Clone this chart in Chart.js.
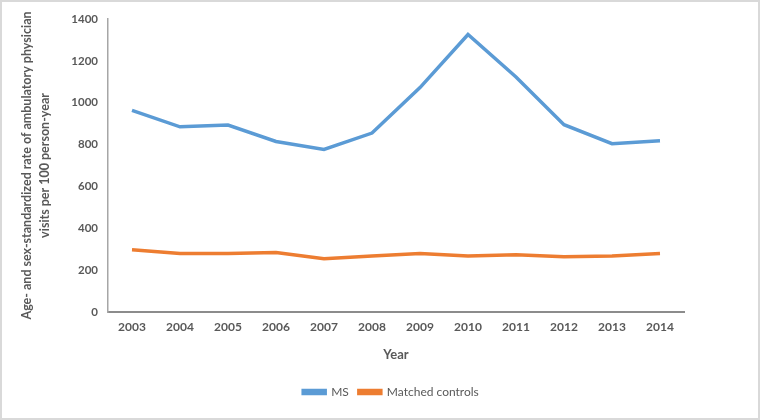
<!DOCTYPE html>
<html>
<head>
<meta charset="utf-8">
<script src="https://cdn.jsdelivr.net/npm/chart.js"></script>
<style>
  html, body { margin: 0; padding: 0; background: #fff; }
  #wrap { width: 760px; height: 420px; }
</style>
</head>
<body>
<div id="wrap"><canvas id="myChart" width="760" height="420"></canvas></div>
<script>
const years = ['2003', '2004', '2005', '2006', '2007', '2008', '2009', '2010', '2011', '2012', '2013', '2014'];
const msRates = [963, 885, 893, 815, 777, 855, 1072, 1326, 1123, 895, 804, 818];
const controlRates = [297, 280, 280, 284, 254, 268, 280, 268, 273, 264, 268, 280];
const yTicks = [0, 200, 400, 600, 800, 1000, 1200, 1400];

const textGray = '#595959';
const fontFamily = 'Lato, "Liberation Sans", sans-serif';

// white background + thin grey frame round the picture
const frame = {
  id: 'frame',
  beforeDraw(chart) {
    const c = chart.ctx;
    c.save();
    c.fillStyle = '#fff';
    c.fillRect(0, 0, chart.width, chart.height);
    c.strokeStyle = '#d9d9d9';
    c.lineWidth = 2;
    c.strokeRect(1, 1, chart.width - 2, chart.height - 2);
    c.restore();
  }
};

// legend sits centred on the whole picture, not the padded box
const legendShift = {
  id: 'legendShift',
  afterLayout(chart) {
    chart.legend.left += 49;
    chart.legend.right += 49;
  }
};

const ctx = document.getElementById('myChart').getContext('2d');
new Chart(ctx, {
  type: 'line',
  data: {
    labels: years,
    datasets: [
      { label: 'MS', data: msRates, borderColor: '#5b9bd5', backgroundColor: '#5b9bd5', borderWidth: 3.5, pointRadius: 0, tension: 0 },
      { label: 'Matched controls', data: controlRates, borderColor: '#ed7d31', backgroundColor: '#ed7d31', borderWidth: 3.5, pointRadius: 0, tension: 0 }
    ]
  },
  options: {
    responsive: false,
    animation: false,
    layout: { padding: { top: 19, right: 76, bottom: 12, left: 0 } },
    plugins: {
      legend: {
        position: 'bottom',
        labels: {
          color: textGray,
          font: { family: fontFamily, size: 12 },
          boxWidth: 22,
          boxHeight: 3,
          padding: 10
        }
      },
      tooltip: { enabled: false }
    },
    scales: {
      x: {
        offset: true,
        grid: { display: false, drawTicks: false },
        border: { display: true, color: '#8c8c8c', width: 2 },
        ticks: { color: textGray, font: { family: fontFamily, size: 12, weight: 'bold' }, padding: 8 },
        title: { display: true, text: 'Year', color: textGray, font: { family: fontFamily, size: 13, weight: 'bold' }, padding: { top: 0, bottom: 13 } },
        afterFit(scale) { scale.height = 64; }
      },
      y: {
        min: 0,
        max: 1400,
        grid: { display: false, drawTicks: false },
        border: { display: true, color: '#a6a6a6', width: 1.5 },
        afterBuildTicks(scale) { scale.ticks = yTicks.map(v => ({ value: v })); },
        ticks: { color: textGray, font: { family: fontFamily, size: 11.5, weight: 'bold' }, padding: 10, callback: v => String(v) },
        title: {
          display: true,
          text: ['Age- and sex-standardized rate of ambulatory physician', 'visits per 100 person-year'],
          color: textGray,
          font: { family: fontFamily, size: 12.5, weight: 'bold', lineHeight: 1.45 },
          padding: { top: 18, bottom: 0 }
        },
        afterFit(scale) { scale.width = 108; }
      }
    }
  },
  plugins: [frame, legendShift]
});
</script>
</body>
</html>
